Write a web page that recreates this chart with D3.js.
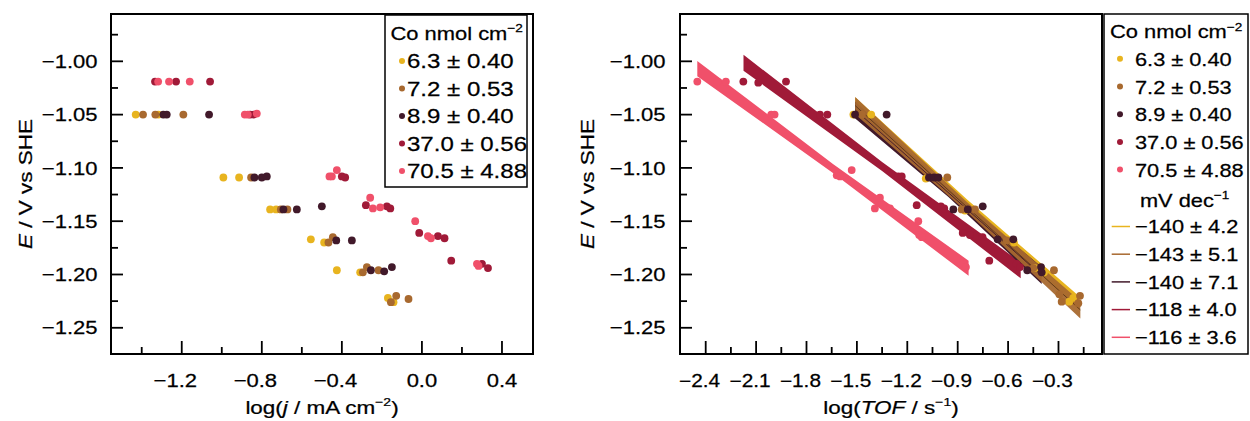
<!DOCTYPE html>
<html><head><meta charset="utf-8">
<script src="https://cdn.jsdelivr.net/npm/d3@7"></script>
<style>
body{margin:0;background:#fff}
svg{display:block}
text{font-family:"Liberation Sans",Arial,Helvetica,sans-serif;fill:#000;stroke:#000;stroke-width:0.25px}
</style>
</head><body>
<svg id="c" width="1250" height="421"></svg>
<script>
// ---------- DATA ----------
const seriesLabels = ["6.3 ± 0.40", "7.2 ± 0.53", "8.9 ± 0.40", "37.0 ± 0.56", "70.5 ± 4.88"];

// Left panel: log(j / mA cm-2) vs E
const logJ_63 = [-1.43, -1.317, -0.992, -0.9135, -0.7585, -0.7285, -0.555, -0.4885, -0.425, -0.3085, -0.17, -0.142];
const eJ_63   = [-1.05, -1.05, -1.109, -1.109, -1.139, -1.139, -1.167, -1.17, -1.196, -1.198, -1.222, -1.226];
const logJ_72 = [-1.3935, -1.332, -1.192, -0.8535, -0.705, -0.672, -0.467, -0.445, -0.295, -0.275, -0.217, -0.155, -0.1285, -0.067];
const eJ_72   = [-1.05, -1.05, -1.05, -1.109, -1.139, -1.139, -1.170, -1.165, -1.198, -1.193, -1.196, -1.226, -1.220, -1.223];
const logJ_89 = [-1.292, -1.275, -1.0635, -0.837, -0.8, -0.775, -0.692, -0.625, -0.5, -0.428, -0.35, -0.255, -0.1885, -0.15];
const eJ_89   = [-1.05, -1.05, -1.05, -1.109, -1.109, -1.108, -1.139, -1.139, -1.136, -1.168, -1.168, -1.196, -1.197, -1.193];
const logJ_370 = [-1.3335, -1.2285, -1.0585, -0.8585, -0.84, -0.4, -0.3835, -0.28, -0.175, -0.158, -0.0135, 0.08, 0.113, 0.1465, 0.30, 0.33];
const eJ_370   = [-1.019, -1.019, -1.019, -1.05, -1.05, -1.108, -1.109, -1.135, -1.136, -1.138, -1.161, -1.164, -1.166, -1.187, -1.19, -1.194];
const logJ_705 = [-1.318, -1.2635, -1.16, -0.885, -0.87, -0.825, -0.462, -0.45, -0.425, -0.2585, -0.245, -0.2085, -0.0335, 0.03, 0.045, 0.275, 0.283];
const eJ_705   = [-1.019, -1.019, -1.019, -1.05, -1.05, -1.049, -1.108, -1.108, -1.102, -1.128, -1.138, -1.137, -1.15, -1.164, -1.166, -1.19, -1.192];

// Right panel: log(TOF / s-1) vs E
const logTOF_63 = [-1.521, -1.415, -1.09, -0.857, -0.565, -0.44, -0.386, -0.236, -0.212];
const eT_63     = [-1.05, -1.05, -1.11, -1.14, -1.17, -1.194, -1.198, -1.2255, -1.222];
const logTOF_72 = [-1.47, -0.962, -0.876, -0.797, -0.608, -0.45, -0.327, -0.295, -0.281, -0.182, -0.172];
const eT_72     = [-1.05, -1.109, -1.139, -1.139, -1.168, -1.194, -1.196, -1.2186, -1.2255, -1.227, -1.22];
const logTOF_89 = [-1.511, -1.323, -1.071, -1.041, -1.015, -0.926, -0.84, -0.751, -0.662, -0.569, -0.486, -0.404, -0.40];
const eT_89     = [-1.05, -1.05, -1.109, -1.109, -1.109, -1.139, -1.139, -1.136, -1.167, -1.167, -1.196, -1.193, -1.198];
const logTOF_370 = [-2.176, -2.087, -1.922, -1.72, -1.676, -1.254, -1.233, -1.144, -1.0, -0.98, -0.87, -0.827, -0.752, -0.712, -0.549, -0.529];
const eT_370     = [-1.019, -1.02, -1.019, -1.05, -1.05, -1.108, -1.108, -1.135, -1.136, -1.138, -1.161, -1.163, -1.165, -1.187, -1.19, -1.193];
const logTOF_705 = [-2.45, -2.33, -2.28, -2.01, -1.99, -1.62, -1.60, -1.531, -1.363, -1.393, -1.303, -1.1345, -1.129, -1.114, -0.867, -0.851];
const eT_705     = [-1.019, -1.019, -1.019, -1.05, -1.05, -1.107, -1.108, -1.102, -1.128, -1.138, -1.138, -1.15, -1.163, -1.165, -1.19, -1.193];

// Tafel fits (right panel)
const fitSlope = [-140, -143, -140, -118, -116];      // mV dec-1
const fitErr = [4.2, 5.1, 7.1, 4.0, 3.6];             // mV dec-1
const fitIntercept = [-1.2515, -1.2575, -1.257, -1.258, -1.291]; // V at log TOF = 0
const fitFrom = [-1.51, -1.51, -1.51, -2.175, -2.45];
const fitTo = [-0.175, -0.17, -0.40, -0.525, -0.835];

// Axis ticks
const eTicks = [-1.25, -1.20, -1.15, -1.10, -1.05, -1.00];
const eMinor = [-1.225, -1.175, -1.125, -1.075, -1.025, -0.975];
const jTicks = [-1.2, -0.8, -0.4, 0.0, 0.4];
const jMinor = [-1.4, -1.0, -0.6, -0.2, 0.2];
const tofTicks = [-2.4, -2.1, -1.8, -1.5, -1.2, -0.9, -0.6, -0.3];
const tofMinor = [-2.25, -1.95, -1.65, -1.35, -1.05, -0.75, -0.45, -0.15];

// ---------- STYLE ----------
const colors = ["#E8B41F", "#A8692F", "#41192A", "#A01A38", "#F0506A"];

const leftSets = [[logJ_63, eJ_63], [logJ_72, eJ_72], [logJ_89, eJ_89], [logJ_370, eJ_370], [logJ_705, eJ_705]];
const rightSets = [[logTOF_63, eT_63], [logTOF_72, eT_72], [logTOF_89, eT_89], [logTOF_370, eT_370], [logTOF_705, eT_705]];

const svg = d3.select("#c");
const fmt2 = d3.format(".2f"), fmt1 = d3.format(".1f");

function calib(str, size, target) {
  const t = svg.append("text").attr("font-size", size).text(str);
  const w = t.node().getComputedTextLength();
  t.remove();
  return w > 0 ? target / w : 1.18;
}
const sxTick = calib("−1.00", 18.5, 55.7);
const sxTickR = calib("−2.4", 17.8, 41);
const sxLegR = calib("6.3 ± 0.40", 18.5, 96.7);
const sxLegL = calib("6.3 ± 0.40", 20, 106.7);
const sxTitle = calib("Co nmol cm", 18.5, 117);
const sxAxis = calib("E / V vs SHE", 19, 130);

function label(g, x, y, parts, size, anchor, sx, rot) {
  const t = g.append("text")
    .attr("transform", `translate(${x},${y})` + (rot ? ` rotate(${rot})` : "") + ` scale(${sx},1)`)
    .attr("font-size", size).attr("text-anchor", anchor || "start");
  let raised = false;
  parts.forEach(p => {
    const ts = t.append("tspan").text(p.t);
    if (p.i) ts.attr("font-style", "italic");
    if (p.sup) { ts.attr("font-size", size * 0.62).attr("dy", -size * 0.42); raised = true; }
    else if (raised) { ts.attr("dy", size * 0.42); raised = false; }
  });
  return t;
}

const y = d3.scaleLinear().domain([-1.2746, -0.9556]).range([354, 14]);
const xL = d3.scaleLinear().domain([-1.5535, 0.555]).range([111, 533]);
const xR = d3.scaleLinear().domain([-2.553, -0.041]).range([680, 1102]);

function drawAxes(x, xt, xm, tickSize, sxX, yLabelRight, yTitleX, xTitleParts) {
  const [x0, x1] = x.range();
  const [y1, y0] = y.range();
  const g = svg.append("g");
  eTicks.forEach(v => g.append("line").attr("x1", x0).attr("x2", x0 + 12).attr("y1", y(v)).attr("y2", y(v)).attr("stroke", "#000").attr("stroke-width", 1.8));
  eMinor.forEach(v => g.append("line").attr("x1", x0).attr("x2", x0 + 7).attr("y1", y(v)).attr("y2", y(v)).attr("stroke", "#000").attr("stroke-width", 1.8));
  eTicks.forEach(v => label(g, yLabelRight, y(v) + 6.7, [{ t: fmt2(v) }], 18.5, "end", sxTick));
  xt.forEach(v => g.append("line").attr("x1", x(v)).attr("x2", x(v)).attr("y1", y1).attr("y2", y1 - 13).attr("stroke", "#000").attr("stroke-width", 1.8));
  xm.forEach(v => g.append("line").attr("x1", x(v)).attr("x2", x(v)).attr("y1", y1).attr("y2", y1 - 7).attr("stroke", "#000").attr("stroke-width", 1.8));
  xt.forEach(v => {
    const shift = v < 0 ? -0.292 * tickSize * sxX : 0;
    label(g, x(v) + shift, 386.5, [{ t: fmt1(v) }], tickSize, "middle", sxX);
  });
  g.append("rect").attr("x", x0).attr("y", y0).attr("width", x1 - x0).attr("height", y1 - y0)
    .attr("fill", "none").attr("stroke", "#000").attr("stroke-width", 2);
  label(g, yTitleX, (y0 + y1) / 2, [{ t: "E", i: true }, { t: " / V vs SHE" }], 19, "middle", sxAxis, -90);
  label(g, (x0 + x1) / 2, 413.5, xTitleParts, 19, "middle", sxAxis);
}

drawAxes(xL, jTicks, jMinor, 18.5, sxTick, 97.5, 31.5,
  [{ t: "log(" }, { t: "j", i: true }, { t: " / mA cm" }, { t: "−2", sup: true }, { t: ")" }]);
drawAxes(xR, tofTicks, tofMinor, 17.8, sxTickR, 665.5, 593.5,
  [{ t: "log(" }, { t: "TOF", i: true }, { t: " / s" }, { t: "−1", sup: true }, { t: ")" }]);

// ---------- LEFT POINTS ----------
const gl = svg.append("g");
leftSets.forEach((s, i) => {
  gl.selectAll(null).data(d3.zip(s[0], s[1])).join("circle")
    .attr("cx", d => xL(d[0])).attr("cy", d => y(d[1])).attr("r", 3.9).attr("fill", colors[i]);
});

// ---------- RIGHT FITS ----------
const gb = svg.append("g");
const h0 = [0.0036, 0.0046, 0.0040, 0.0042, 0.0042];
const bandOrder = [4, 3, 0, 2, 1];
bandOrder.forEach(i => {
  const b = fitSlope[i] / 1000, e = fitErr[i] / 1000, a = fitIntercept[i];
  const xa = fitFrom[i], xb = fitTo[i], xc = (xa + xb) / 2;
  const L = (xb - xa) / 2;
  const f = v => a + b * v;
  const hw = h0[i] + e * L;
  const pts = [
    [xa, f(xa) + hw], [xc, f(xc) + h0[i]], [xb, f(xb) + hw],
    [xb, f(xb) - hw], [xc, f(xc) - h0[i]], [xa, f(xa) - hw]
  ];
  gb.append("path")
    .attr("d", d3.line().x(d => xR(d[0])).y(d => y(d[1])).curve(d3.curveLinearClosed)(pts))
    .attr("fill", colors[i]).attr("opacity", i === 1 ? 0.95 : 1);
});
[2, 1].forEach(i => {
  const f = v => fitIntercept[i] + fitSlope[i] / 1000 * v;
  gb.append("line").attr("x1", xR(fitFrom[i])).attr("y1", y(f(fitFrom[i])))
    .attr("x2", xR(fitTo[i])).attr("y2", y(f(fitTo[i])))
    .attr("stroke", i === 1 ? "#5a3518" : colors[2]).attr("stroke-width", 0.9);
});

// ---------- RIGHT POINTS ----------
const gr = svg.append("g");
rightSets.forEach((s, i) => {
  gr.selectAll(null).data(d3.zip(s[0], s[1])).join("circle")
    .attr("cx", d => xR(d[0])).attr("cy", d => y(d[1])).attr("r", 3.9).attr("fill", colors[i]);
});

// ---------- LEGENDS ----------
const lg = svg.append("g");
lg.append("rect").attr("x", 385).attr("y", 15).attr("width", 142).attr("height", 172)
  .attr("fill", "#fff").attr("stroke", "#000").attr("stroke-width", 1.5);
label(lg, 390.5, 40, [{ t: "Co nmol cm" }, { t: "−2", sup: true }], 18.5, "start", sxTitle);
seriesLabels.forEach((s, i) => {
  lg.append("circle").attr("cx", 402).attr("cy", 61 + 27.5 * i).attr("r", 3).attr("fill", colors[i]);
  label(lg, 407, 68.3 + 27.5 * i, [{ t: s }], 20, "start", sxLegL);
});

const rg = svg.append("g");
rg.append("rect").attr("x", 1104).attr("y", 14).attr("width", 144).attr("height", 340)
  .attr("fill", "#fff").attr("stroke", "#000").attr("stroke-width", 1.5);
label(rg, 1110, 38.3, [{ t: "Co nmol cm" }, { t: "−2", sup: true }], 18.5, "start", sxTitle);
seriesLabels.forEach((s, i) => {
  rg.append("circle").attr("cx", 1120).attr("cy", 58.8 + 27.7 * i).attr("r", 3).attr("fill", colors[i]);
  label(rg, 1135, 66 + 27.7 * i, [{ t: s }], 18.5, "start", sxLegR);
});
label(rg, 1140, 206.7, [{ t: "mV dec" }, { t: "−1", sup: true }], 18.5, "start", sxLegR);
fitSlope.forEach((s, i) => {
  const yy = 233.3 + 27.7 * i;
  rg.append("line").attr("x1", 1111.7).attr("x2", 1130).attr("y1", yy - 6.8).attr("y2", yy - 6.8)
    .attr("stroke", colors[i]).attr("stroke-width", 1.5);
  label(rg, 1135, yy, [{ t: "−" + Math.abs(s) + " ± " + fitErr[i].toFixed(1) }], 18.5, "start", sxLegR);
});
</script>
</body></html>
